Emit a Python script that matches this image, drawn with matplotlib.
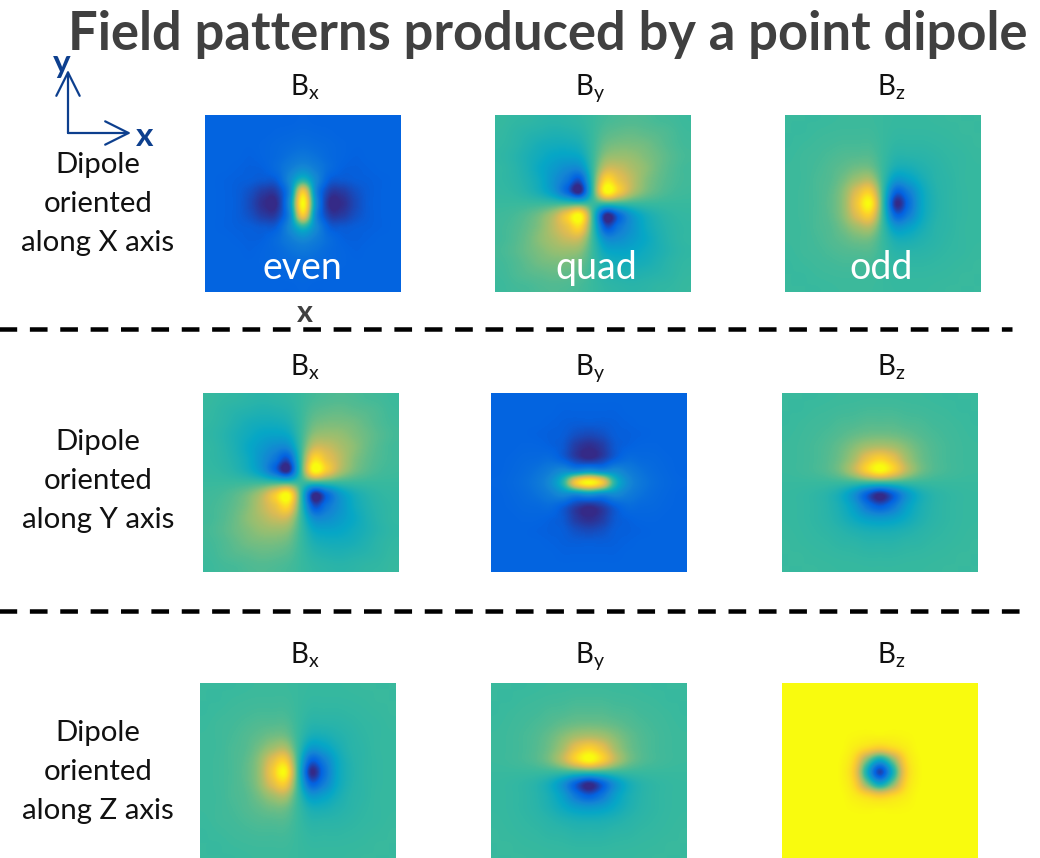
# Field patterns of a point dipole, 3 x 3 panels
import numpy as np
import matplotlib
matplotlib.use('Agg')
import matplotlib.pyplot as plt
from matplotlib.colors import LinearSegmentedColormap

plt.rcParams['font.family'] = ['Lato', 'DejaVu Sans']
plt.rcParams['mathtext.fontset'] = 'custom'
plt.rcParams['mathtext.rm'] = 'Lato'

# colours of the scale, low to high
scale_colors = ['#352a87', '#0363e1', '#1485d4', '#06a7c6', '#38b99e',
                '#92bf73', '#d9ba56', '#fcce2e', '#f9fb0e']

# one quarter of each pattern (row = down, col = right from centre)
even_quarter = np.array([
    [1.00, 0.30, 0.01, 0.01, 0.07, 0.115, 0.125, 0.13],
    [0.85, 0.26, 0.05, 0.04, 0.085, 0.115, 0.125, 0.13],
    [0.45, 0.27, 0.12, 0.105, 0.115, 0.12, 0.125, 0.13],
    [0.27, 0.22, 0.16, 0.125, 0.12, 0.125, 0.13, 0.13],
    [0.20, 0.18, 0.15, 0.135, 0.125, 0.13, 0.13, 0.13],
    [0.165, 0.155, 0.145, 0.135, 0.13, 0.13, 0.13, 0.13],
    [0.145, 0.14, 0.135, 0.13, 0.13, 0.13, 0.13, 0.13],
    [0.135, 0.13, 0.13, 0.13, 0.13, 0.13, 0.13, 0.13],
])
# distance from the 0.5 background
quad_quarter = np.array([
    [0.00, 0.00, 0.00, 0.00, 0.00, 0.00, 0.00, 0.00],
    [0.00, 0.50, 0.35, 0.18, 0.09, 0.045, 0.02, 0.01],
    [0.00, 0.40, 0.30, 0.20, 0.11, 0.06, 0.03, 0.015],
    [0.00, 0.22, 0.22, 0.17, 0.12, 0.07, 0.035, 0.015],
    [0.00, 0.12, 0.14, 0.13, 0.10, 0.07, 0.04, 0.02],
    [0.00, 0.07, 0.09, 0.09, 0.08, 0.055, 0.03, 0.015],
    [0.00, 0.04, 0.055, 0.06, 0.05, 0.04, 0.025, 0.01],
    [0.00, 0.02, 0.03, 0.035, 0.03, 0.02, 0.015, 0.005],
])
odd_x_quarter = np.array([
    [0.00, 0.49, 0.33, 0.13, 0.055, 0.025, 0.012, 0.005],
    [0.00, 0.36, 0.27, 0.12, 0.05, 0.025, 0.012, 0.005],
    [0.00, 0.18, 0.15, 0.085, 0.04, 0.025, 0.01, 0.005],
    [0.00, 0.08, 0.08, 0.055, 0.035, 0.02, 0.01, 0.005],
    [0.00, 0.04, 0.04, 0.035, 0.025, 0.015, 0.01, 0.003],
    [0.00, 0.02, 0.02, 0.02, 0.015, 0.01, 0.005, 0.00],
    [0.00, 0.01, 0.01, 0.01, 0.008, 0.005, 0.00, 0.00],
    [0.00, 0.005, 0.005, 0.005, 0.003, 0.00, 0.00, 0.00],
])
odd_y_quarter = np.array([
    [0.00, 0.00, 0.00, 0.00, 0.00, 0.00, 0.00, 0.00],
    [0.50, 0.38, 0.20, 0.09, 0.04, 0.02, 0.01, 0.005],
    [0.38, 0.30, 0.16, 0.08, 0.04, 0.02, 0.01, 0.005],
    [0.18, 0.16, 0.11, 0.065, 0.035, 0.02, 0.01, 0.005],
    [0.08, 0.075, 0.06, 0.04, 0.025, 0.015, 0.008, 0.003],
    [0.04, 0.04, 0.03, 0.025, 0.015, 0.01, 0.005, 0.00],
    [0.02, 0.02, 0.015, 0.012, 0.008, 0.005, 0.00, 0.00],
    [0.008, 0.008, 0.006, 0.005, 0.003, 0.00, 0.00, 0.00],
])
z_quarter = np.array([
    [0.06, 0.42, 0.86, 0.985, 1.0, 1.0, 1.0, 1.0],
    [0.38, 0.60, 0.90, 0.99, 1.0, 1.0, 1.0, 1.0],
    [0.85, 0.90, 0.96, 1.0, 1.0, 1.0, 1.0, 1.0],
    [0.98, 0.98, 0.99, 1.0, 1.0, 1.0, 1.0, 1.0],
    [1.0, 1.0, 1.0, 1.0, 1.0, 1.0, 1.0, 1.0],
    [1.0, 1.0, 1.0, 1.0, 1.0, 1.0, 1.0, 1.0],
    [1.0, 1.0, 1.0, 1.0, 1.0, 1.0, 1.0, 1.0],
    [1.0, 1.0, 1.0, 1.0, 1.0, 1.0, 1.0, 1.0],
])

title = 'Field patterns produced by a point dipole'
row_labels = ['along X axis', 'along Y axis', 'along Z axis']
col_labels = [r'$\mathrm{B_x}$', r'$\mathrm{B_y}$', r'$\mathrm{B_z}$']
symmetry_labels = ['even', 'quad', 'odd']


def unfold(quarter, sign_x=1, sign_y=1):
    wide = np.hstack([sign_x * quarter[:, :0:-1], quarter])
    return np.vstack([sign_y * wide[:0:-1], wide])


even_x = unfold(even_quarter)
even_y = even_x.T
quad = 0.5 - unfold(quad_quarter, -1, -1)
odd_x = 0.5 - unfold(odd_x_quarter, -1, 1)
odd_y = 0.5 - unfold(odd_y_quarter, 1, -1)
even_z = unfold(z_quarter)

grids = [[even_x, quad, odd_x],
         [quad, even_y, odd_y],
         [odd_x, odd_y, even_z]]

# panel boxes in pixels: left edges per row, top and bottom per row
lefts = [[205, 495, 785], [203, 491, 782], [200, 491, 782]]
tops = [115, 393, 683]
bottoms = [292, 572, 861]
panel_w = 196

cmap = LinearSegmentedColormap.from_list('field', scale_colors)

fig = plt.figure(figsize=(10.4, 8.58), dpi=100)
ax = fig.add_axes([0, 0, 1, 1])

for i in range(3):
    for j in range(3):
        # catrom goes through the grid values, agg's bicubic smooths them away
        ax.imshow(grids[i][j], cmap=cmap, vmin=0, vmax=1, aspect='auto',
                  interpolation='catrom', origin='upper',
                  extent=(lefts[i][j], lefts[i][j] + panel_w, bottoms[i], tops[i]))

ax.set_xlim(0, 1040)
ax.set_ylim(858, 0)
ax.axis('off')

ax.text(548, 50, title, fontsize=37.8, fontweight='bold', color='#404040',
        ha='center', va='baseline')

# column headings and row text
head_x = [305, 590, 891]
head_y = [95, 375, 663]
for i in range(3):
    for j in range(3):
        ax.text(head_x[j], head_y[i], col_labels[j], fontsize=20, color='#111111',
                ha='center', va='baseline')

text_y = [165, 442, 733]
for i in range(3):
    ax.text(98, text_y[i], 'Dipole', fontsize=21.2, color='#111111', ha='center', va='center')
    ax.text(98, text_y[i] + 39, 'oriented', fontsize=21.2, color='#111111', ha='center', va='center')
    ax.text(98, text_y[i] + 78, row_labels[i], fontsize=21.2, color='#111111', ha='center', va='center')

# labels on the first row of panels
sym_x = [302, 596, 881]
for j in range(3):
    ax.text(sym_x[j], 268, symmetry_labels[j], fontsize=27, color='white',
            ha='center', va='center')
ax.text(305, 313, 'x', fontsize=22, fontweight='bold', color='#404040', ha='center', va='center')

# dashed separators
ax.plot([-8.7, 1012], [329, 329], color='black', lw=3.24, dashes=(3.93, 2.82))
ax.plot([-8.7, 1030], [610.5, 610.5], color='black', lw=3.24, dashes=(3.93, 2.82))

# coordinate arrows
blue = '#0d3f8e'
arrow = dict(arrowstyle='->,head_length=1.2,head_width=0.6', color=blue, lw=1.6,
             shrinkA=0, shrinkB=0, mutation_scale=14)
ax.annotate('', xy=(68, 70), xytext=(68, 133), arrowprops=arrow)
ax.annotate('', xy=(131, 133), xytext=(68, 133), arrowprops=arrow)
ax.text(145, 137, 'x', fontsize=24, fontweight='bold', color=blue, ha='center', va='center')
ax.text(62, 64, 'y', fontsize=24, fontweight='bold', color=blue, ha='center', va='center')

fig.savefig('out.png', dpi=100)
